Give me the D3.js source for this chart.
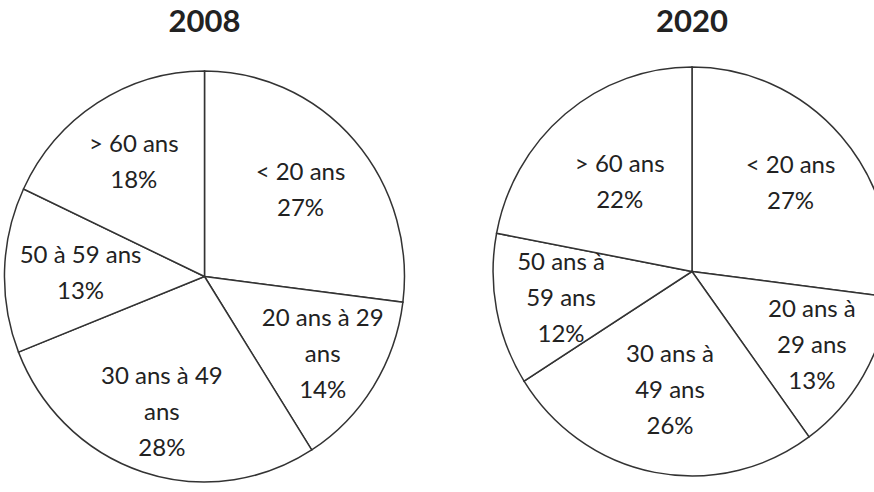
<!DOCTYPE html>
<html>
<head>
<meta charset="utf-8">
<script src="https://cdn.jsdelivr.net/npm/d3@7"></script>
<style>
  body { margin: 0; background: #fff; }
  text { font-family: Lato, "Open Sans", sans-serif; fill: #222; }
</style>
</head>
<body>
<script>
// Répartition par âge, 2008 et 2020

var years = ["2008", "2020"];

var labels2008 = [["< 20 ans"], ["20 ans à 29", "ans"], ["30 ans à 49", "ans"], ["50 à 59 ans"], ["> 60 ans"]];
var values2008 = [27, 14, 28, 13, 18];

var labels2020 = [["< 20 ans"], ["20 ans à", "29 ans"], ["30 ans à", "49 ans"], ["50 ans à", "59 ans"], ["> 60 ans"]];
var values2020 = [27, 13, 26, 12, 22];

var svgWidth = 874;
var svgHeight = 492;

var svg = d3.select("body")
  .append("svg")
  .attr("width", svgWidth)
  .attr("height", svgHeight);

// pie geometry (slightly oval like the original), label distance as fraction of radius
var pies = [
  { year: years[0], labels: labels2008, values: values2008, cx: 204.5, cy: 276.5, rx: 200, ry: 205.5,
    labelR: [0.64, 0.7, 0.69, 0.62, 0.66] },
  { year: years[1], labels: labels2020, values: values2020, cx: 692, cy: 271.5, rx: 199, ry: 204.5,
    labelR: [0.66, 0.7, 0.59, 0.67, 0.57] }
];

var pie = d3.pie().sort(null).value(d => d.value);
var arc = d3.arc().innerRadius(0).outerRadius(1);
var lineHeight = 36;

pies.forEach(function(p) {
  var data = p.values.map((v, i) => ({ value: v, lines: p.labels[i].concat([v + "%"]), lr: p.labelR[i] }));
  var arcs = pie(data);

  var g = svg.append("g")
    .attr("transform", `translate(${p.cx}, ${p.cy})`);

  g.append("g")
    .attr("transform", `scale(${p.rx}, ${p.ry})`)
    .selectAll("path")
    .data(arcs)
    .enter()
    .append("path")
    .attr("d", arc)
    .attr("fill", "#fff")
    .attr("stroke", "#333")
    .attr("stroke-width", 1.5)
    .attr("vector-effect", "non-scaling-stroke");

  var txt = g.selectAll("text.lbl")
    .data(arcs)
    .enter()
    .append("text")
    .attr("class", "lbl")
    .attr("text-anchor", "middle")
    .style("font-size", "24px")
    .attr("transform", function(d) {
      var c = d3.arc().innerRadius(d.data.lr).outerRadius(d.data.lr).centroid(d);
      return `translate(${c[0] * p.rx}, ${c[1] * p.ry})`;
    });

  txt.each(function(d) {
    var n = d.data.lines.length;
    d3.select(this).selectAll("tspan")
      .data(d.data.lines)
      .enter()
      .append("tspan")
      .attr("x", 0)
      .attr("y", (l, i) => (i - (n - 1) / 2) * lineHeight)
      .attr("dy", "0.35em")
      .text(l => l);
  });

  // title
  svg.append("text")
    .attr("x", p.cx)
    .attr("y", 32)
    .attr("text-anchor", "middle")
    .style("font-size", "31px")
    .style("font-weight", "bold")
    .text(p.year);
});
</script>
</body>
</html>
